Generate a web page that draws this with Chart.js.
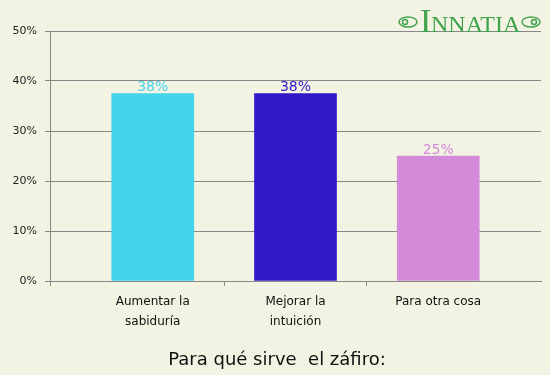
<!DOCTYPE html>
<html>
<head>
<meta charset="utf-8">
<script src="https://cdn.jsdelivr.net/npm/chart.js@4.4.0/dist/chart.umd.min.js"></script>
<style>
    html, body { margin: 0; padding: 0; background: #f3f3e3; }
    #wrap { width: 550px; height: 375px; }
</style>
</head>
<body>
<div id="wrap"><canvas id="sapphire_chart" width="550" height="375"></canvas></div>
<script>
// Data
const categories = [['Aumentar la', 'sabiduría'], ['Mejorar la', 'intuición'], ['Para otra cosa']];
const shares = [37.5, 37.5, 25];
const barColors = ['#44d4ea', '#2f19c9', '#d38bd9'];
const yTicks = [0, 10, 20, 30, 40, 50];
const chartTitle = 'Para qué sirve  el záfiro:';

const gridGray = '#888888';
const fontFamily = '"DejaVu Sans", Verdana, sans-serif';

// x runs on a linear scale so the plot can stretch past the outer bars like the original
const xMin = -0.72;
const xMax = 2.72;

/**
 * Percent labels over the bars, in the bar colour
 */
const barValueLabels = {
    id: 'barValueLabels',
    afterDatasetsDraw(chart) {
        const ctx = chart.ctx;
        const meta = chart.getDatasetMeta(0);
        ctx.save();
        ctx.font = '14px ' + fontFamily;
        ctx.textAlign = 'center';
        ctx.textBaseline = 'bottom';
        meta.data.forEach((bar, i) => {
            ctx.fillStyle = barColors[i];
            ctx.fillText(Math.round(shares[i]) + '%', bar.x, bar.y + 1);
        });
        ctx.restore();
    }
};

/**
 * Bottom title and the INNATIA mark at top right
 */
const decorations = {
    id: 'decorations',
    afterDraw(chart) {
        const ctx = chart.ctx;
        ctx.save();
        ctx.fillStyle = '#111';
        ctx.font = '18px ' + fontFamily;
        ctx.textAlign = 'center';
        ctx.textBaseline = 'alphabetic';
        ctx.fillText(chartTitle, 277, 365);

        // logo
        const green = '#3fa34d';
        ctx.fillStyle = green;
        ctx.strokeStyle = green;
        ctx.textAlign = 'left';
        ctx.font = '34px "Liberation Serif", serif';
        ctx.fillText('I', 420, 32);
        ctx.font = '24px "Liberation Serif", serif';
        ctx.fillText('NNATIA', 431, 32);
        ctx.lineWidth = 1.5;
        [[408, 22, -1], [531, 22, 1]].forEach(([cx, cy, dir]) => {
            ctx.beginPath();
            ctx.ellipse(cx, cy, 9, 5, 0, 0, Math.PI * 2);
            ctx.stroke();
            ctx.beginPath();
            ctx.arc(cx + dir * 3, cy, 2.5, 0, Math.PI * 2);
            ctx.stroke();
        });
        ctx.restore();
    }
};

const ctx = document.getElementById('sapphire_chart');

const sapphireChart = new Chart(ctx, {
    type: 'bar',
    data: {
        datasets: [{
            data: shares.map((v, i) => ({ x: i, y: v })),
            backgroundColor: barColors,
            borderWidth: 0,
            barThickness: 82
        }]
    },
    options: {
        responsive: false,
        animation: false,
        devicePixelRatio: 1,
        layout: {
            padding: { top: 31, right: 9, left: 0, bottom: 0 }
        },
        plugins: {
            legend: { display: false },
            title: { display: false },
            tooltip: { enabled: false }
        },
        scales: {
            x: {
                type: 'linear',
                offset: false,
                min: xMin,
                max: xMax,
                afterBuildTicks: function(scale) {
                    scale.ticks = [xMin, 0, 0.5, 1, 1.5, 2].map(v => ({ value: v }));
                },
                afterFit: function(scale) {
                    scale.height = 94;
                },
                ticks: {
                    autoSkip: false,
                    maxRotation: 0,
                    padding: 6,
                    color: '#111',
                    font: { family: fontFamily, size: 12, lineHeight: 20 / 12 },
                    callback: function(value) {
                        return Number.isInteger(value) ? categories[value] : '';
                    }
                },
                grid: {
                    offset: false,
                    drawOnChartArea: false,
                    tickLength: 5,
                    tickColor: function(context) {
                        const v = context.tick ? context.tick.value : 0;
                        return Number.isInteger(v) ? 'rgba(0,0,0,0)' : gridGray;
                    }
                },
                border: { color: gridGray }
            },
            y: {
                min: 0,
                max: 50,
                afterBuildTicks: function(scale) {
                    scale.ticks = yTicks.map(v => ({ value: v }));
                },
                afterFit: function(scale) {
                    scale.width = 50;
                },
                ticks: {
                    padding: 8,
                    color: '#222',
                    font: { family: fontFamily, size: 11 },
                    callback: function(value) {
                        return value + '%';
                    }
                },
                grid: {
                    color: gridGray,
                    tickLength: 5
                },
                border: { color: gridGray }
            }
        }
    },
    plugins: [barValueLabels, decorations]
});
</script>
</body>
</html>
